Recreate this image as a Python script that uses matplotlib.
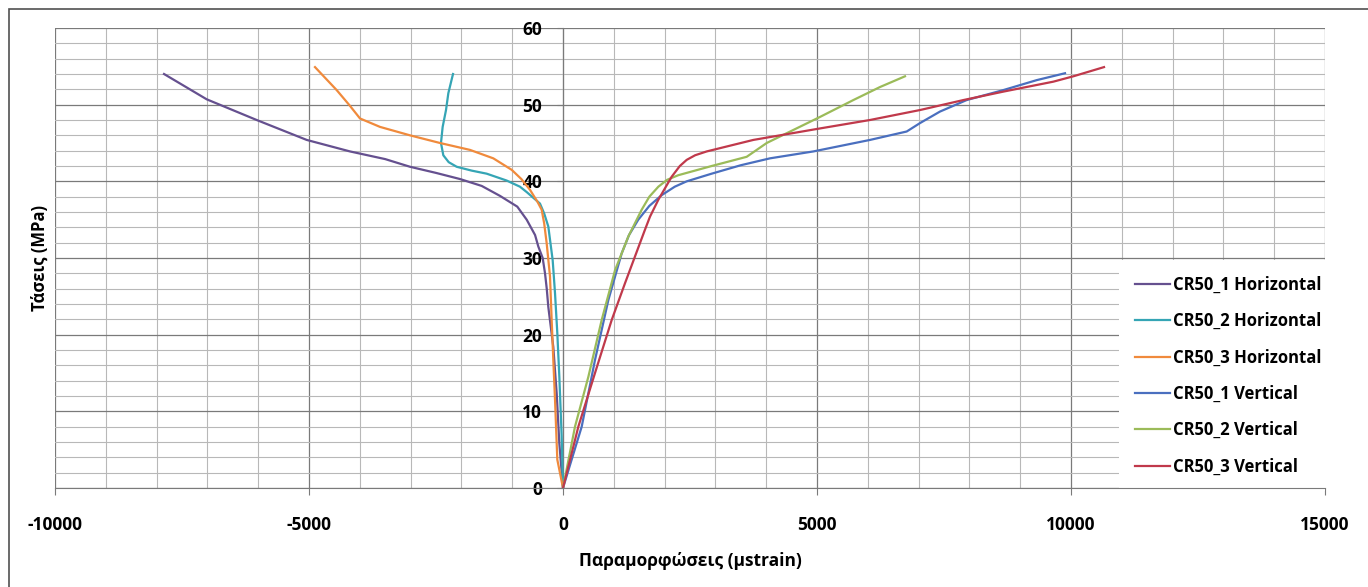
import matplotlib.pyplot as plt
from matplotlib.patches import Rectangle
from matplotlib.ticker import MultipleLocator

# Donnees : deformations (microstrain) / contraintes (MPa)
noms_series = ['CR50_1 Horizontal', 'CR50_2 Horizontal', 'CR50_3 Horizontal',
               'CR50_1 Vertical', 'CR50_2 Vertical', 'CR50_3 Vertical']

cr50_1_h_x = [0, -72, -124, -191, -289, -320, -354, -400, -486, -550, -715, -900, -1240, -1600, -2028, -2500, -3012, -3500, -4193, -5045, -6030, -7014, -7854]
cr50_1_h_y = [0, 5.8, 12.3, 18.4, 23.6, 26.0, 28.0, 30.0, 31.5, 33.0, 35.0, 36.7, 38.1, 39.4, 40.3, 41.1, 41.9, 42.9, 43.9, 45.4, 48.0, 50.7, 54.0]

cr50_2_h_x = [0, -26, -72, -112, -157, -203, -289, -370, -453, -715, -847, -1108, -1503, -1800, -2093, -2250, -2356, -2402, -2369, -2303, -2257, -2191, -2165]
cr50_2_h_y = [0, 6.7, 14.5, 20.2, 25.4, 29.7, 34.1, 35.8, 37.1, 38.6, 39.3, 40.1, 41.0, 41.4, 41.9, 42.5, 43.4, 45.0, 47.1, 49.3, 51.5, 53.3, 54.0]

cr50_3_h_x = [0, -112, -157, -191, -223, -256, -321, -370, -420, -500, -650, -820, -1010, -1372, -1831, -2421, -3012, -3602, -3996, -4200, -4455, -4882]
cr50_3_h_y = [0, 3.7, 11.5, 16.7, 21.9, 27.6, 31.9, 34.5, 36.3, 37.3, 38.9, 40.3, 41.5, 43.0, 44.1, 45.0, 46.0, 47.1, 48.2, 49.9, 51.9, 54.9]

cr50_1_v_x = [0, 368, 630, 892, 1155, 1300, 1482, 1700, 1943, 2200, 2435, 2927, 3500, 4075, 4928, 6043, 6766, 7028, 7421, 7946, 8667, 9325, 9882]
cr50_1_v_y = [0, 8.0, 16.7, 24.5, 30.6, 33.0, 35.0, 36.8, 38.2, 39.3, 40.0, 41.0, 42.1, 43.0, 43.9, 45.4, 46.5, 47.6, 49.1, 50.6, 51.9, 53.2, 54.1]

cr50_2_v_x = [0, 236, 499, 761, 1024, 1286, 1549, 1700, 1877, 2050, 2270, 2927, 3616, 4010, 4534, 5059, 5715, 6240, 6732]
cr50_2_v_y = [0, 8.0, 14.5, 21.9, 28.4, 32.8, 36.3, 38.0, 39.3, 40.2, 40.8, 42.0, 43.2, 45.0, 46.7, 48.4, 50.6, 52.3, 53.7]

cr50_3_v_x = [0, 302, 630, 958, 1220, 1417, 1614, 1713, 1877, 2139, 2300, 2435, 2600, 2829, 3746, 5059, 6043, 7028, 7880, 8667, 9652, 10046, 10650]
cr50_3_v_y = [0, 8.0, 15.0, 21.9, 26.7, 30.2, 33.7, 35.4, 37.6, 40.6, 42.0, 42.8, 43.4, 43.9, 45.4, 46.9, 48.0, 49.3, 50.6, 51.7, 53.0, 53.7, 54.9]

couleurs = ['#65508f', '#35a5b5', '#f08a3c', '#4a6fbf', '#9bbb59', '#c0394b']

plt.rcParams['font.family'] = ['Open Sans', 'DejaVu Sans']
plt.rcParams['font.weight'] = 'bold'
plt.rcParams['axes.unicode_minus'] = False   # tiret simple comme sous Excel

fig = plt.figure(figsize=(13.68, 5.87), dpi=100)
ax = fig.add_axes([55/1368, 99/587, 1270/1368, 460/587])

# cadre exterieur (coupe a droite et en bas comme sur l'image)
fig.patches.append(Rectangle((9/1368, -0.1), 1.2, 0.1 + 578/587, transform=fig.transFigure,
                             fill=False, edgecolor='#505050', linewidth=1.2))

series = [(cr50_1_h_x, cr50_1_h_y), (cr50_2_h_x, cr50_2_h_y), (cr50_3_h_x, cr50_3_h_y),
          (cr50_1_v_x, cr50_1_v_y), (cr50_2_v_x, cr50_2_v_y), (cr50_3_v_x, cr50_3_v_y)]
for k in range(len(series)):
    ax.plot(series[k][0], series[k][1], color=couleurs[k], linewidth=1.6, label=noms_series[k], zorder=3)

ax.set_xlim(-10000, 15000)
ax.set_ylim(0, 60)

# grille : principale tous les 5000 / 10, secondaire tous les 1000 / 2
ax.xaxis.set_major_locator(MultipleLocator(5000))
ax.xaxis.set_minor_locator(MultipleLocator(1000))
ax.yaxis.set_major_locator(MultipleLocator(10))
ax.yaxis.set_minor_locator(MultipleLocator(2))
ax.grid(which='major', color='#7a7a7a', linewidth=0.9)
ax.grid(which='minor', color='#b8b8b8', linewidth=0.8)
ax.set_axisbelow(True)

ax.spines['top'].set_visible(False)
ax.spines['right'].set_visible(False)
ax.spines['left'].set_position(('data', 0))
ax.spines['left'].set_color('#7a7a7a')
ax.spines['bottom'].set_color('#7a7a7a')
ax.spines['bottom'].set_zorder(6)   # l'axe x reste visible sous la legende
ax.tick_params(axis='x', which='major', direction='out', length=5, color='#7a7a7a', pad=15, labelsize=12.5)
ax.tick_params(axis='y', which='major', direction='out', length=4, color='#7a7a7a', pad=11, labelsize=12.5)
ax.tick_params(which='minor', length=0)

ax.set_xlabel('Παραμορφώσεις (μstrain)', fontsize=12.5, fontweight='bold', labelpad=13)
# titre de l'axe y place a la main (l'axe y est au milieu du graphique)
fig.text(40/1368, 329/587, 'Τάσεις (MPa)', rotation=90, ha='center', va='center',
         fontsize=12, fontweight='bold')

leg = ax.legend(loc='upper left', bbox_to_anchor=(0.838, 0.0, 0.162, 0.4957), mode='expand',
                borderaxespad=0, frameon=True, fancybox=False, edgecolor='none', facecolor='white',
                framealpha=1, fontsize=12, handlelength=2.1, handletextpad=0.2, labelspacing=1.1,
                borderpad=0.95)

fig.savefig('out.png', dpi=100)
